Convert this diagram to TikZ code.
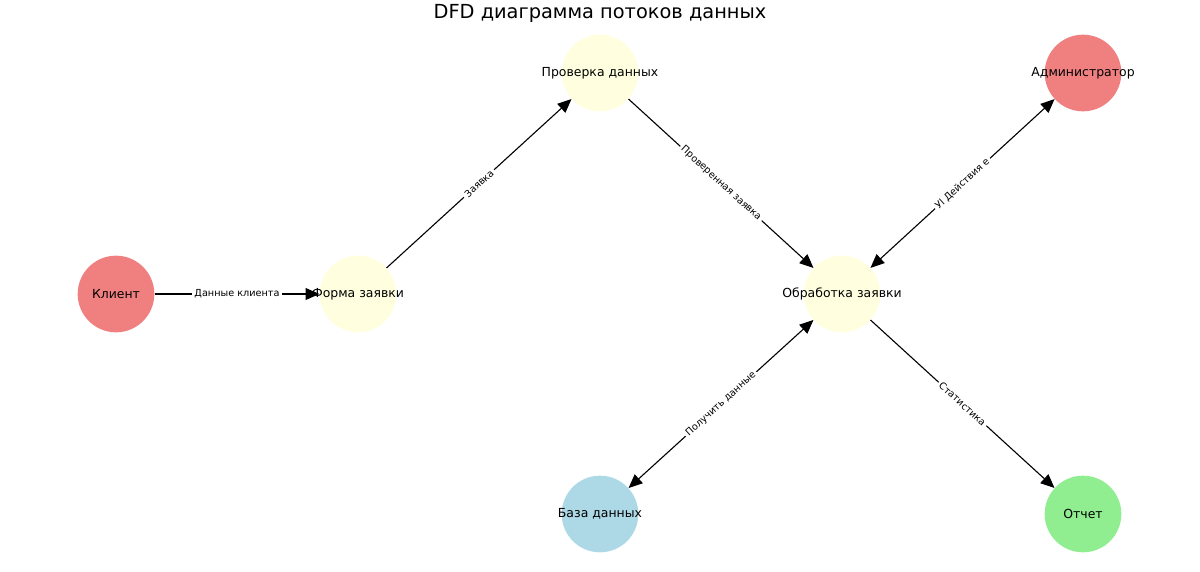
\documentclass[tikz,border=0pt]{standalone}
\usepackage{fontspec}
\setmainfont{DejaVu Sans}
\usetikzlibrary{arrows.meta}

\definecolor{lcoral}{HTML}{F08080}
\definecolor{lyellow}{HTML}{FFFFE0}
\definecolor{lblue}{HTML}{ADD8E6}
\definecolor{lgreen}{HTML}{90EE90}

\begin{document}
\begin{tikzpicture}
        [
            x=0.254mm, y=-0.254mm,
            proc/.style = {shape=circle, minimum size=55.4pt, inner sep=0pt},
            ptext/.style = {font=\fontsize{9}{11}\selectfont},
            flow/.style = {line width=0.8pt, -{Triangle[length=10pt,width=8.6pt]}},
            bflow/.style = {line width=0.8pt, {Triangle[length=10pt,width=8.6pt]}-{Triangle[length=10pt,width=8.6pt]}},
            elabel/.style = {font=\fontsize{7}{8}\selectfont, fill=white, inner sep=1.8pt, sloped, midway},
        ]

        \useasboundingbox (0,0) rectangle (1200,572);

        \node[font=\fontsize{14}{16}\selectfont] (title) at (600,13) {DFD диаграмма потоков данных};

        \node[proc, fill=lcoral] (klient) at (116,294) {};
        \node[proc, fill=lyellow] (forma) at (358,294) {};
        \node[proc, fill=lyellow] (prov) at (600,73) {};
        \node[proc, fill=lyellow] (obr) at (842,294) {};
        \node[proc, fill=lcoral] (admin) at (1083,73) {};
        \node[proc, fill=lblue] (baza) at (600,514) {};
        \node[proc, fill=lgreen] (otchet) at (1083,514) {};

        \draw [flow] (klient) -- node[elabel] {Данные клиента} (forma);
        \draw [flow] (forma) -- node[elabel] {Заявка} (prov);
        \draw [flow] (prov) -- node[elabel] {Проверенная заявка} (obr);
        \draw [bflow] (obr) -- node[elabel] {Уl Действия е} (admin);
        \draw [bflow] (baza) -- node[elabel] {Получить данные} (obr);
        \draw [flow] (obr) -- node[elabel] {Статистика} (otchet);

        \node[ptext] (klientT) at (klient) {Клиент};
        \node[ptext] (formaT) at (forma) {Форма заявки};
        \node[ptext] (provT) at (prov) {Проверка данных};
        \node[ptext] (obrT) at (obr) {Обработка заявки};
        \node[ptext] (adminT) at (admin) {Администратор};
        \node[ptext] (bazaT) at (baza) {База данных};
        \node[ptext] (otchetT) at (otchet) {Отчет};
    \end{tikzpicture}
\end{document}
